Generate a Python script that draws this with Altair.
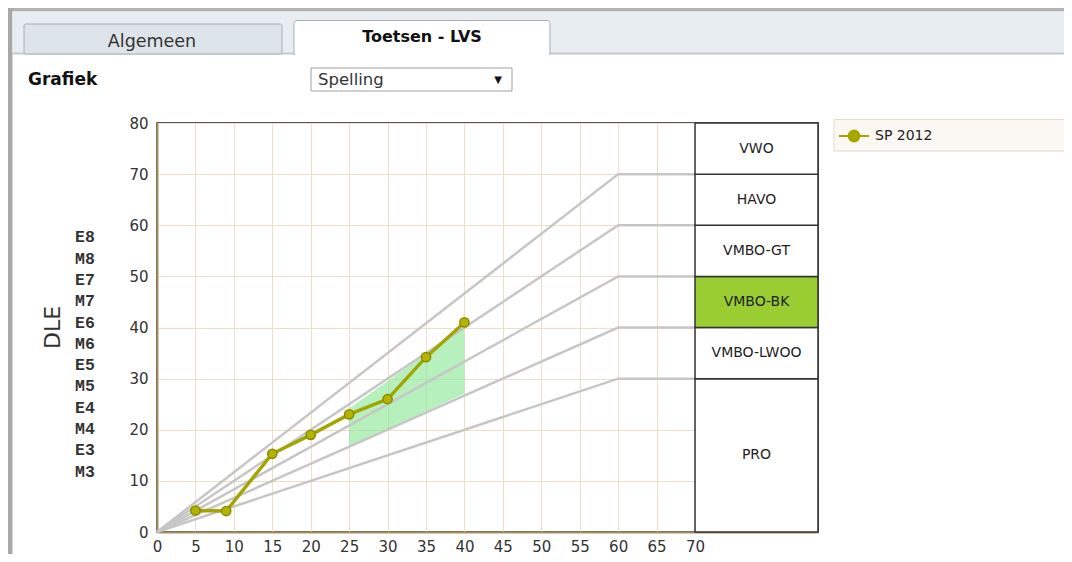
import altair as alt
import pandas as pd

# ---------------- data ----------------
SERIES = "SP 2012"
test_x = [5, 9, 15, 20, 25, 30, 35, 40]
test_dle = [4.2, 4.1, 15.3, 19.0, 23.0, 26.0, 34.2, 41.0]

band_x = [25, 30, 35, 40]
band_hi = [24.2, 29.5, 34.9, 40.2]
band_lo = [16.7, 20.2, 23.6, 27.1]

level_names = ["PRO", "VMBO-LWOO", "VMBO-BK", "VMBO-GT", "HAVO", "VWO"]
level_lo = [0, 30, 40, 50, 60, 70]
level_hi = [30, 40, 50, 60, 70, 80]
current_level = "VMBO-BK"

ref_end = [30, 40, 50, 60, 70]   # DLE where the reference lines level off
ref_break = 60                   # month where they level off
ref_stop = 70                    # end of month axis
box_from, box_to = 70, 86        # school level column

grade_labels = ["E8", "M8", "E7", "M7", "E6", "M6", "E5", "M5", "E4", "M4", "E3", "M3"]
grade_top, grade_step = 57.65, 4.17

x_ticks = list(range(0, 75, 5))
y_ticks = list(range(0, 90, 10))

# ---------------- layout ----------------
OX, OY = 157, 123          # page position of the plot origin (UI chrome only)
W, H = 661, 409
FONT = "DejaVu Sans"

xs = alt.Scale(domain=[0, box_to], nice=False, zero=False)
ys = alt.Scale(domain=[0, 80], nice=False, zero=False)

x_axis = alt.Axis(values=x_ticks, title=None, grid=True, gridColor="#ebdfc9", gridWidth=1,
                  domainColor="#a39161", domainWidth=2, ticks=False, labelPadding=7,
                  labelBaseline="top", labelFont=FONT, labelFontSize=15, labelColor="#333",
                  labelFlush=False)
y_axis = alt.Axis(values=y_ticks, title="DLE", grid=True, gridColor="#ebdfc9", gridWidth=1,
                  domainColor="#a39161", domainWidth=2, ticks=False, labelPadding=9,
                  labelFont=FONT, labelFontSize=15, labelColor="#333", labelFlush=False,
                  titleFont=FONT, titleFontSize=22, titleFontWeight="normal", titleColor="#333",
                  titleAngle=270, titleAlign="center", titleBaseline="middle",
                  titleX=-105, titleY=204)


def X(field):
    return alt.X(field, scale=xs, axis=x_axis)


def Y(field):
    return alt.Y(field, scale=ys, axis=y_axis)


one = alt.Data(values=[{"k": 0}])


def chrome_rect(x0, y0, x1, y1, fill, stroke=None, sw=1.0, r=0):
    kw = {"fill": fill}
    if stroke:
        kw.update(stroke=stroke, strokeWidth=sw)
    else:
        kw.update(strokeWidth=0)
    if r:
        kw["cornerRadius"] = r
    return alt.Chart(one).mark_rect(**kw).encode(
        x=alt.value(x0 - OX), x2=alt.value(x1 - OX),
        y=alt.value(y0 - OY), y2=alt.value(y1 - OY))


def chrome_text(txt, x, y, size, weight="normal", align="left", color="#222", font=FONT):
    return alt.Chart(one).mark_text(text=txt, align=align, baseline="middle", font=font,
                                    fontSize=size, fontWeight=weight, color=color).encode(
        x=alt.value(x - OX), y=alt.value(y - OY))


chrome = [
    chrome_rect(8, 8, 1064, 11.5, "#b2b2b2"),
    chrome_rect(8, 8, 12.5, 554, "#a9a9a9"),
    chrome_rect(12.5, 11.5, 1064, 54, "#e8edf1"),
    chrome_rect(12.5, 52.5, 1064, 54.5, "#c4cad0"),
    chrome_rect(24, 24, 282, 54, "#dde4ea", "#a5afb8", 1, 2),
    chrome_rect(294, 20.5, 550, 56, "#ffffff", "#a5afb8", 1, 3),
    chrome_rect(295, 52, 549, 58, "#ffffff"),
    chrome_text("Algemeen", 152, 42, 17.5, align="center", color="#333"),
    chrome_text("Toetsen - LVS", 422, 36.5, 16, weight="bold", align="center", color="#111"),
    chrome_text("Grafiek", 28, 80, 17, weight="bold", color="#111"),
    chrome_rect(311, 68, 512, 91, "#ffffff", "#a0a0a0", 1),
    chrome_text("Spelling", 318, 80, 16.5, color="#333"),
    chrome_text("\u25bc", 498, 80, 10, align="center", color="#111"),
    chrome_rect(834, 119.5, 1070, 151, "#fbf8f3", "#e6dcca", 1),
]

# ---------------- data layers ----------------
ref_rows = []
for v in ref_end:
    for mx, dle in [(0, 0), (ref_break, v), (ref_stop, v)]:
        ref_rows.append({"line": v, "m": mx, "dle": dle})
ref_df = pd.DataFrame(ref_rows)

ref_lines = alt.Chart(ref_df).mark_line(color="#c6c6c6", strokeWidth=2.5).encode(
    x=X("m:Q"), y=Y("dle:Q"), detail="line:N",
)

band_df = pd.DataFrame({"m": band_x, "hi": band_hi, "lo": band_lo})
band = alt.Chart(band_df).mark_area(color="#8fe89a", opacity=0.65).encode(
    x=X("m:Q"), y=Y("hi:Q"), y2="lo:Q",
)

test_df = pd.DataFrame({"m": test_x, "dle": test_dle, "serie": [SERIES] * len(test_x)})

legend_path = ("M-1,0L-0.36,0M0.36,0L1,0"
               "M0.36,0A0.36,0.36,0,1,1,-0.36,0A0.36,0.36,0,1,1,0.36,0Z")

test_line = alt.Chart(test_df).mark_line(strokeWidth=3.4).encode(
    x=X("m:Q"), y=Y("dle:Q"),
    color=alt.Color("serie:N", scale=alt.Scale(domain=[SERIES], range=["#a4a400"]),
                    legend=alt.Legend(orient="none", legendX=681, legendY=-3, title=None,
                                      symbolType=legend_path, symbolSize=900,
                                      symbolStrokeWidth=2, symbolFillColor="#a8a800",
                                      labelFont=FONT, labelFontSize=14, labelColor="#222",
                                      labelOffset=5, padding=0)),
)

test_pts = alt.Chart(test_df).mark_point(filled=True, size=85, fill="#b3b300", stroke="#8c8c00",
                                         strokeWidth=1.5, opacity=1).encode(
    x=X("m:Q"), y=Y("dle:Q"),
)

lvl_df = pd.DataFrame({"name": level_names, "lo": level_lo, "hi": level_hi})
lvl_base = alt.Chart(lvl_df).transform_calculate(
    bx0=str(box_from), bx1=str(box_to),
    bxm=f"({box_from}+{box_to})/2", mid="(datum.lo+datum.hi)/2",
    hl=f"datum.name === '{current_level}' ? 1 : 0",
)
lvl_boxes = lvl_base.mark_rect(stroke="#333333", strokeWidth=1.5).encode(
    x=X("bx0:Q"), x2="bx1:Q",
    y=Y("lo:Q"), y2="hi:Q",
    fill=alt.condition("datum.hl == 1", alt.value("#9acd32"), alt.value("#ffffff")),
)
lvl_text = lvl_base.mark_text(font=FONT, fontSize=14, color="#222", baseline="middle",
                              align="center").encode(
    x=X("bxm:Q"), y=Y("mid:Q"), text="name:N",
)

grade_df = pd.DataFrame({"g": grade_labels, "i": list(range(len(grade_labels)))})
grades = alt.Chart(grade_df).transform_calculate(
    gy=f"{grade_top} - datum.i * {grade_step}"
).mark_text(font="Liberation Mono", fontSize=16.5, fontWeight="bold", color="#333",
            align="left", baseline="middle").encode(
    x=alt.value(75 - OX),
    y=Y("gy:Q"),
    text="g:N",
)

chart = alt.layer(
    *chrome, band, ref_lines, test_line, test_pts, lvl_boxes, lvl_text, grades
).properties(
    width=W, height=H,
    padding={"left": OX - 8, "top": OY - 8, "right": 1056 - W - (OX - 8), "bottom": 546 - H - (OY - 8)},
    autosize=alt.AutoSizeParams(type="none"),
    background="#ffffff",
).configure_view(stroke="#222222", strokeWidth=1.5)

chart.save("out.html", embed_options={"renderer": "svg", "actions": False})
